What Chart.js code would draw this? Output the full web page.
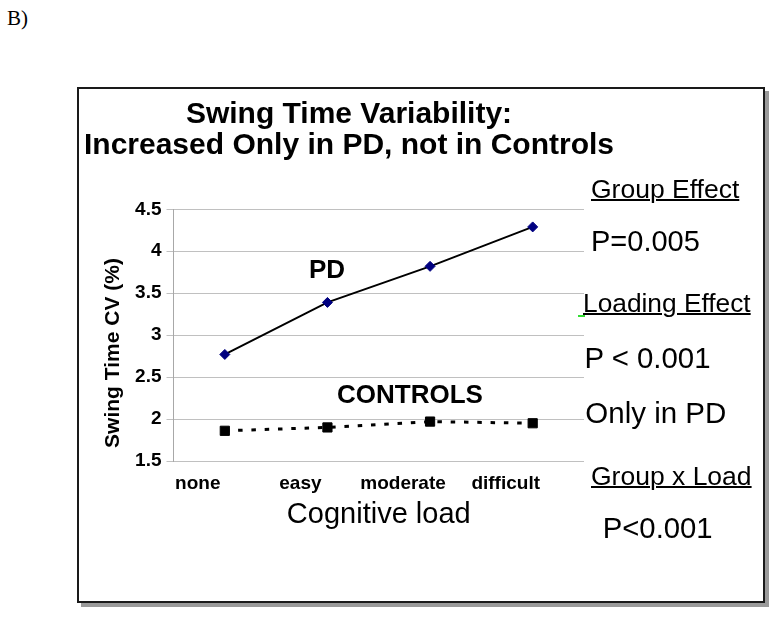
<!DOCTYPE html>
<html>
<head>
<meta charset="utf-8">
<script src="https://cdn.jsdelivr.net/npm/chart.js@4.4.1/dist/chart.umd.min.js"></script>
<style>
  body { margin: 0; background: #fff; width: 784px; height: 618px; position: relative; overflow: hidden; }
  #marco { position: absolute; left: 77px; top: 87px; width: 688px; height: 516px; box-sizing: border-box;
           border: 2px solid #1a1a1a; box-shadow: 4px 4px 0 0 #9a9a9a; background: #fff; }
  #grafico { position: absolute; left: 80px; top: 88px; }
  .nota { position: absolute; font-family: 'Liberation Sans', Arial, sans-serif; line-height: 1; color: #000; white-space: nowrap; }
  .sub { text-decoration: underline; text-decoration-thickness: 2px; }
  #letra { position: absolute; left: 7px; top: 8px; font-family: 'Liberation Serif', 'Times New Roman', serif; font-size: 21px; line-height: 1; }
  #verde { position: absolute; left: 578px; top: 315px; width: 7px; height: 2px; background: #33dd33; }
</style>
</head>
<body>
<div id="letra">B)</div>
<div id="marco"></div>
<canvas id="grafico" width="540" height="460"></canvas>

<div class="nota sub" style="left:591px; top:175.6px; font-size:26.5px;">Group Effect</div>
<div class="nota" style="left:591px; top:227.2px; font-size:29px;">P=0.005</div>
<div id="verde"></div>
<div class="nota sub" style="left:583px; top:290.4px; font-size:26.3px;">Loading Effect</div>
<div class="nota" style="left:584.4px; top:343.4px; font-size:29.4px;">P &lt; 0.001</div>
<div class="nota" style="left:585.3px; top:397.7px; font-size:29.5px;">Only in PD</div>
<div class="nota sub" style="left:591px; top:462.6px; font-size:26.5px;">Group x Load</div>
<div class="nota" style="left:602.7px; top:513.2px; font-size:29.3px;">P&lt;0.001</div>

<script>
// datos
const categorias = ["none", "easy", "moderate", "difficult"];
const valoresPD = [2.77, 3.39, 3.82, 4.29];
const valoresControles = [1.86, 1.90, 1.97, 1.95];
const yMin = 1.5, yMax = 4.5, yPaso = 0.5;

const tituloGrafico = ["Swing Time Variability:", "Increased Only in PD, not in Controls"];
const tituloY = "Swing Time CV (%)";
const tituloX = "Cognitive load";

const fuente = "'Liberation Sans', Arial, sans-serif";
Chart.defaults.font.family = fuente;
Chart.defaults.color = "#000";

// textos sueltos dentro del canvas (titulo, titulo del eje y, etiquetas PD / CONTROLS)
const textosExtra = {
    id: "textosExtra",
    afterDraw(chart) {
        const ctx = chart.ctx;
        ctx.save();
        ctx.fillStyle = "#000";
        ctx.textAlign = "center";
        ctx.textBaseline = "alphabetic";

        // titulo (centrado a mano, el plugin de Chart.js lo comprimia)
        ctx.font = "bold 30px " + fuente;
        ctx.fillText(tituloGrafico[0], 269, 34.7);
        ctx.fillText(tituloGrafico[1], 269, 66);

        ctx.save();
        ctx.translate(33, 265);
        ctx.rotate(-Math.PI / 2);
        ctx.font = "bold 21px " + fuente;
        ctx.textBaseline = "middle";
        ctx.fillText(tituloY, 0, 0);
        ctx.restore();

        ctx.font = "bold 26px " + fuente;
        ctx.fillText("PD", 247, 190);
        ctx.fillText("CONTROLS", 330, 315);
        ctx.restore();
    }
};

const ctx = document.getElementById("grafico").getContext("2d");
const chart = new Chart(ctx, {
    type: "line",
    data: {
        labels: categorias,
        datasets: [
            {
                label: "PD",
                data: valoresPD,
                borderColor: "#000",
                borderWidth: 2,
                pointStyle: "rectRot",
                pointRadius: 5,
                pointBackgroundColor: "#000080",
                pointBorderColor: "#000080",
                pointBorderWidth: 1,
                tension: 0
            },
            {
                label: "CONTROLS",
                data: valoresControles,
                borderColor: "#000",
                borderWidth: 3,
                borderDash: [4.5, 8.8],
                pointStyle: "rect",
                pointRadius: 6.5,
                pointBackgroundColor: "#000",
                pointBorderColor: "#000",
                pointBorderWidth: 1,
                tension: 0
            }
        ]
    },
    options: {
        responsive: false,
        animation: false,
        layout: { padding: { left: 0, right: 36, top: 121.3, bottom: 12 } },
        plugins: {
            legend: { display: false },
            tooltip: { enabled: false },
            title: { display: false }
        },
        scales: {
            x: {
                type: "category",
                offset: true,
                grid: { display: false, drawTicks: false },
                border: { display: false },
                ticks: {
                    font: { size: 19, weight: "bold" },
                    padding: 11,
                    labelOffset: -27,
                    maxRotation: 0,
                    autoSkip: false
                },
                title: {
                    display: true,
                    text: tituloX,
                    font: { size: 29 },
                    padding: { top: 2, bottom: 4 }
                },
                afterFit(scale) { scale.height = 75; }
            },
            y: {
                min: yMin,
                max: yMax,
                ticks: {
                    stepSize: yPaso,
                    font: { size: 19, weight: "bold" },
                    padding: 5,
                    callback: (v) => String(v)
                },
                grid: { color: "#c0c0c0", lineWidth: 1, tickLength: 7 },
                border: { color: "#a8a8a8", width: 1 },
                afterFit(scale) { scale.width = 93.5; }
            }
        }
    },
    plugins: [textosExtra]
});
</script>
</body>
</html>
